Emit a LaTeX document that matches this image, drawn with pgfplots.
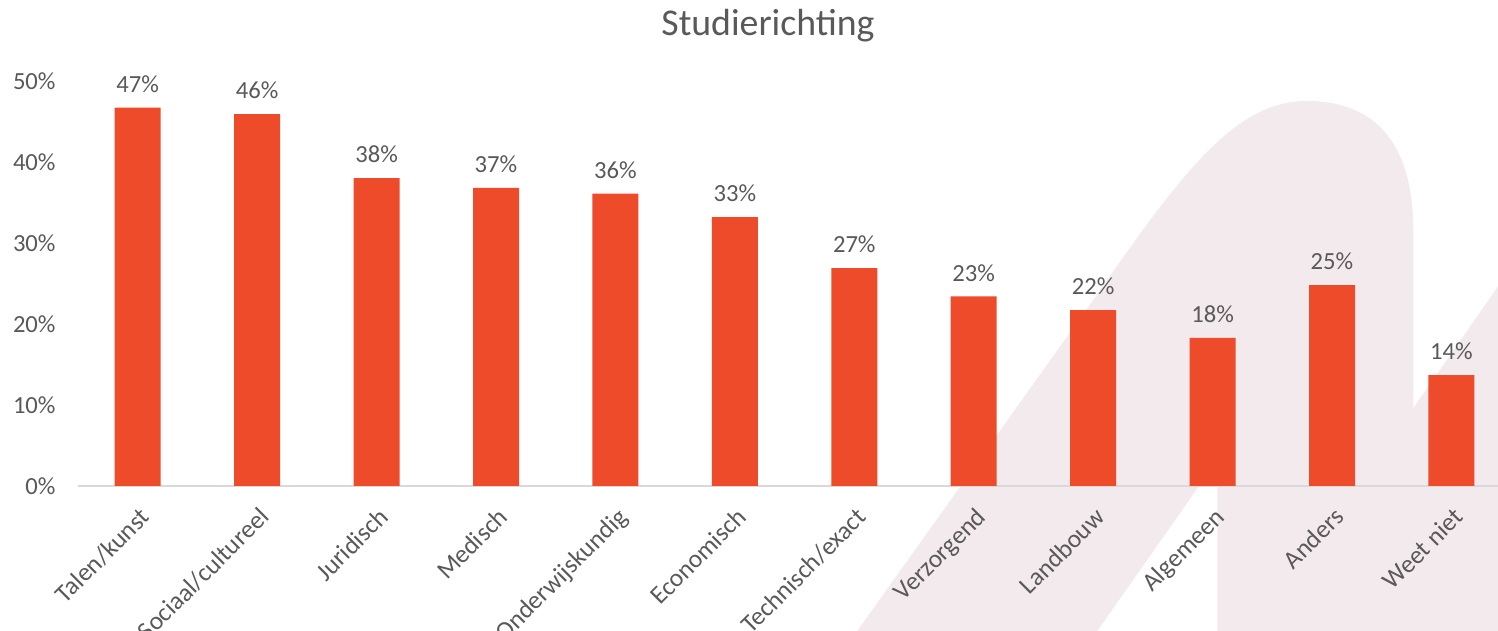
\documentclass[border=0pt]{standalone}
\usepackage{fontspec}
\setmainfont{Carlito}
\usepackage{pgfplots}
\pgfplotsset{compat=1.18}
\definecolor{barred}{RGB}{238,75,43}
\definecolor{txt}{HTML}{595959}
\definecolor{wm}{RGB}{243,234,237}

\begin{document}
\begin{tikzpicture}
\useasboundingbox (0,0) rectangle (29.96cm,12.62cm);
% faint logo in the background (pixel units, y down)
\begin{scope}[yshift=12.62cm,x=0.02cm,y=-0.02cm]
\fill[wm] (857,631) -- (1100,290)
  .. controls (1190,160) and (1240,101) .. (1307,101)
  .. controls (1380,101) and (1413,150) .. (1413,230)
  -- (1413,408) -- (1498,286) -- (1498,631) -- (1217,631)
  -- (1217,460) -- (1097,631) -- cycle;
\end{scope}
\node[font=\fontsize{21.5}{25}\selectfont,text=txt,anchor=base] at (15.36cm,11.9cm) {Studierichting};
\begin{axis}[
  at={(1.56cm,2.9cm)}, anchor=south west,
  scale only axis,
  width=28.4cm, height=8.1cm,
  xmin=-0.5, xmax=11.39,
  ymin=0, ymax=50,
  ybar, bar width=0.92cm,
  axis lines=left,
  y axis line style={draw=none},
  x axis line style={draw=black!15,line width=0.8pt,-},
  tick style={draw=none},
  xtick={0,...,11},
  xticklabels={Talen/kunst,Sociaal/cultureel,Juridisch,Medisch,Onderwijskundig,Economisch,Technisch/exact,Verzorgend,Landbouw,Algemeen,Anders,Weet niet},
  xticklabel style={rotate=45,anchor=north east,font=\fontsize{14.5}{16}\selectfont,text=txt,yshift=-0.12cm,xshift=-0.1cm},
  ytick={0,10,...,50},
  yticklabel={\pgfmathprintnumber{\tick}\%},
  yticklabel style={font=\fontsize{14}{16}\selectfont,text=txt,xshift=-0.25cm},
  /pgf/number format/assume math mode=true,
  nodes near coords={\pgfmathprintnumber[fixed,precision=0]{\pgfplotspointmeta}\%},
  nodes near coords style={font=\fontsize{14}{16}\selectfont,text=txt,anchor=south,yshift=0.18cm},
  clip=false,
]
\addplot[fill=barred,draw=none] coordinates {
  (0,46.7) (1,45.9) (2,38.0) (3,36.8) (4,36.1) (5,33.2)
  (6,26.9) (7,23.4) (8,21.7) (9,18.3) (10,24.8) (11,13.7)
};
\end{axis}
\end{tikzpicture}
\end{document}
